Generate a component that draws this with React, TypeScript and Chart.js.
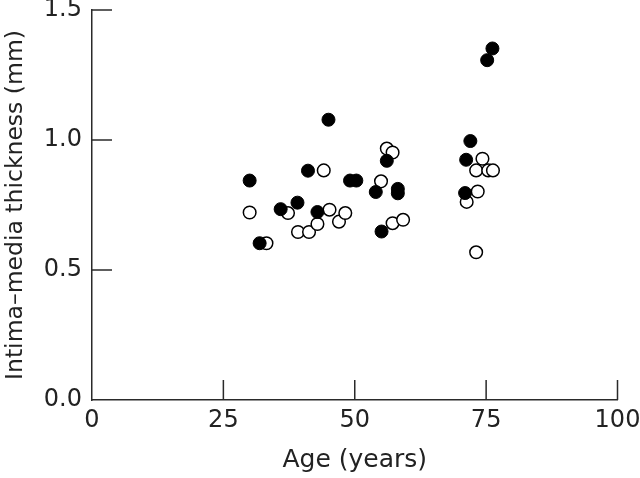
import React, { useEffect, useRef } from "react";
import { Chart, registerables } from "chart.js";

Chart.register(...registerables);

const xTicks = [0, 25, 50, 75, 100];
const yTicks = [0, 0.5, 1.0, 1.5];

const filledAge = [30.0, 31.9, 35.9, 39.1, 41.1, 42.9, 45.0, 49.1, 50.3, 54.0, 55.1, 56.1, 58.2, 58.2, 71.2, 71.0, 72.0, 75.2, 76.2];
const filledImt = [0.844, 0.603, 0.734, 0.759, 0.882, 0.723, 1.078, 0.844, 0.844, 0.80, 0.648, 0.92, 0.812, 0.795, 0.924, 0.796, 0.996, 1.307, 1.352];

const openAge = [30.0, 33.2, 37.3, 39.2, 41.3, 42.9, 44.1, 45.2, 47.0, 48.2, 55.0, 56.1, 57.2, 57.2, 59.2, 71.3, 73.4, 73.1, 73.1, 74.3, 75.4, 76.3];
const openImt = [0.721, 0.603, 0.719, 0.646, 0.646, 0.677, 0.883, 0.732, 0.686, 0.719, 0.841, 0.967, 0.952, 0.680, 0.693, 0.762, 0.802, 0.568, 0.883, 0.928, 0.883, 0.883];

const xTitle = "Age (years)";
const yTitle = "Intima\u2013media thickness (mm)";

const FONT = "'DejaVu Sans'";
const INK = "#222222";

const innerTicks = {
  id: "innerTicks",
  afterDraw(chart: any) {
    const { ctx, chartArea, scales } = chart;
    ctx.save();
    ctx.strokeStyle = "#2a2a2a";
    ctx.lineWidth = 1.5;
    ctx.beginPath();
    xTicks.forEach((v) => {
      if (v === 0) return;
      const px = scales.x.getPixelForValue(v);
      ctx.moveTo(px, chartArea.bottom);
      ctx.lineTo(px, chartArea.bottom - 20);
    });
    yTicks.forEach((v) => {
      if (v === 0) return;
      const py = scales.y.getPixelForValue(v);
      ctx.moveTo(chartArea.left, py);
      ctx.lineTo(chartArea.left + 20, py);
    });
    ctx.stroke();
    ctx.restore();
  },
};

export default function App() {
  const ref = useRef<HTMLCanvasElement>(null);
  useEffect(() => {
    document.body.style.margin = "0";
    const chart = new Chart(ref.current!, {
      type: "scatter",
      data: {
        datasets: [
          {
            label: "filled",
            data: filledAge.map((a, i) => ({ x: a, y: filledImt[i] })),
            backgroundColor: "#000",
            borderColor: "#000",
            borderWidth: 1,
            pointRadius: 6.5,
          },
          {
            label: "open",
            data: openAge.map((a, i) => ({ x: a, y: openImt[i] })),
            backgroundColor: "#fff",
            borderColor: "#000",
            borderWidth: 1.5,
            pointRadius: 6.3,
          },
        ],
      },
      options: {
        responsive: false,
        animation: false,
        layout: { padding: { top: 10, right: 22.5, left: 0, bottom: 0 } },
        plugins: { legend: { display: false }, tooltip: { enabled: false } },
        scales: {
          x: {
            type: "linear",
            min: 0,
            max: 100,
            afterBuildTicks: (s: any) => {
              s.ticks = xTicks.map((v) => ({ value: v }));
            },
            afterFit: (s: any) => {
              s.height = 78;
              s.paddingLeft = 0;
              s.paddingRight = 0;
            },
            grid: { display: false, drawTicks: false },
            border: { display: true, color: "#2a2a2a", width: 1.5 },
            ticks: {
              padding: 6,
              color: INK,
              font: { family: FONT, size: 24, weight: "normal" },
              callback: (v: any) => String(v),
            },
            title: {
              display: true,
              text: xTitle,
              color: INK,
              font: { family: FONT, size: 25, weight: "normal" },
              padding: { top: 0, bottom: 3 },
            },
          },
          y: {
            type: "linear",
            min: 0,
            max: 1.5,
            afterBuildTicks: (s: any) => {
              s.ticks = yTicks.map((v) => ({ value: v }));
            },
            afterFit: (s: any) => {
              s.width = 92;
              s.paddingTop = 0;
              s.paddingBottom = 0;
            },
            grid: { display: false, drawTicks: false },
            border: { display: true, color: "#2a2a2a", width: 1.5 },
            ticks: {
              padding: 10,
              color: INK,
              font: { family: FONT, size: 24, weight: "normal" },
              callback: (v: any) => Number(v).toFixed(1),
            },
            title: {
              display: true,
              text: yTitle,
              color: INK,
              font: { family: FONT, size: 23.5, weight: "normal" },
              padding: { top: 2, bottom: 0 },
            },
          },
        },
      },
      plugins: [innerTicks],
    });
    return () => chart.destroy();
  }, []);
  return <canvas ref={ref} width={640} height={478} style={{ display: "block" }} />;
}
